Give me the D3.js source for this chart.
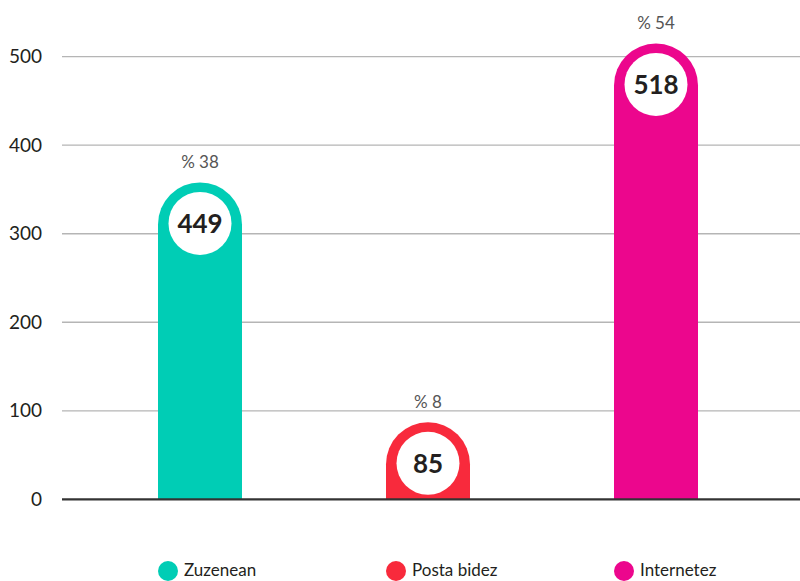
<!DOCTYPE html>
<meta charset="utf-8">
<style>
  body { margin: 0; background: #fff; }
  text { font-family: Lato, "Open Sans", sans-serif; }
</style>
<script src="https://d3js.org/d3.v7.min.js"></script>
<div id="chart"></div>
<script>

// data
var categories = ["Zuzenean", "Posta bidez", "Internetez"];
var barValues = [358, 87, 515];        // height of the drawn bars (cap top)
var countLabels = ["449", "85", "518"]; // numbers printed in the white circles
var percentLabels = ["% 38", "% 8", "% 54"];
var colors = ["#00cdb5", "#f82a3c", "#ec068d"];
var yTicks = [0, 100, 200, 300, 400, 500];

var W = 800, H = 581;
var margin = {top: 0, left: 62};

var svg = d3.select("#chart").append("svg")
    .attr("width", W)
    .attr("height", H);

var y = d3.scaleLinear()
  .domain([0, 500])
  .range([499.3, 56.7]);

var x = d3.scaleBand()
  .domain(categories)
  .range([86, 770])
  .padding(0);

var barW = 84;
var r = barW / 2;

// gridlines
svg.append("g")
  .selectAll("line")
  .data(yTicks.filter(function(d) { return d > 0; }))
  .enter().append("line")
    .attr("x1", margin.left)
    .attr("x2", W)
    .attr("y1", function(d) { return y(d); })
    .attr("y2", function(d) { return y(d); })
    .attr("stroke", "#b5b5b5")
    .attr("stroke-width", 1.3);

// y axis labels
var yAxis = svg.append("g")
  .attr("transform", "translate(" + (margin.left - 20) + ",0)")
  .call(d3.axisLeft(y).tickValues(yTicks).tickSize(0).tickPadding(0));
yAxis.select(".domain").remove();
yAxis.selectAll("text")
  .attr("fill", "#231f20")
  .style("font-size", "19px")
  .style("font-family", "Lato, sans-serif");

// bars: rect with rounded cap
var data = categories.map(function(c, i) {
  return {cat: c, v: barValues[i], label: countLabels[i], pct: percentLabels[i], color: colors[i]};
});

function barPath(d) {
  var x0 = x(d.cat) + x.bandwidth() / 2 - r,
      x1 = x0 + barW,
      top = y(d.v),
      bottom = y(0);
  return "M" + x0 + "," + bottom +
    "L" + x0 + "," + (top + r) +
    "A" + r + "," + r + " 0 0 1 " + x1 + "," + (top + r) +
    "L" + x1 + "," + bottom + "Z";
}

var bars = svg.append("g").selectAll("g")
  .data(data)
  .enter().append("g");

bars.append("path")
  .attr("d", barPath)
  .attr("fill", function(d) { return d.color; });

bars.append("circle")
  .attr("cx", function(d) { return x(d.cat) + x.bandwidth() / 2; })
  .attr("cy", function(d) { return y(d.v) + r - 1; })
  .attr("r", 31.5)
  .attr("fill", "#fff");

bars.append("text")
  .attr("x", function(d) { return x(d.cat) + x.bandwidth() / 2; })
  .attr("y", function(d) { return y(d.v) + r - 1; })
  .attr("dy", "0.36em")
  .attr("text-anchor", "middle")
  .attr("fill", "#231f20")
  .style("font-size", "26px")
  .style("font-weight", "bold")
  .text(function(d) { return d.label; });

bars.append("text")
  .attr("x", function(d) { return x(d.cat) + x.bandwidth() / 2; })
  .attr("y", function(d) { return y(d.v) - 14; })
  .attr("text-anchor", "middle")
  .attr("fill", "#555")
  .style("font-size", "17px")
  .text(function(d) { return d.pct; });

// baseline
svg.append("line")
  .attr("x1", margin.left)
  .attr("x2", W)
  .attr("y1", y(0))
  .attr("y2", y(0))
  .attr("stroke", "#333")
  .attr("stroke-width", 2.2);

// legend
var legend = svg.append("g").selectAll("g")
  .data(data)
  .enter().append("g")
    .attr("transform", function(d) {
      return "translate(" + (x(d.cat) + x.bandwidth() / 2 - 32) + ",571)";
    });

legend.append("circle")
  .attr("r", 10)
  .attr("fill", function(d) { return d.color; });

legend.append("text")
  .attr("x", 16)
  .attr("y", 5)
  .attr("fill", "#231f20")
  .style("font-size", "17px")
  .text(function(d) { return d.cat; });

</script>
